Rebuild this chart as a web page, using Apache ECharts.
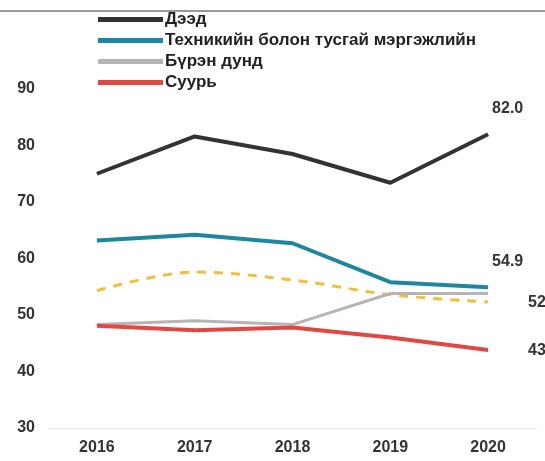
<!DOCTYPE html>
<html>
<head>
<meta charset="utf-8">
<style>
  html, body { margin: 0; padding: 0; background: #fff; }
  #chart { width: 545px; height: 461px; }
</style>
<script src="https://cdn.jsdelivr.net/npm/echarts@6/dist/echarts.min.js"></script>
</head>
<body>
<div id="chart"></div>
<script>
// 데이터
const years = ['2016', '2017', '2018', '2019', '2020'];
const deed = [75.0, 81.6, 78.5, 73.4, 82.0];
const tech = [63.2, 64.2, 62.7, 55.8, 54.9];
const buren = [48.3, 49.0, 48.3, 53.8, 53.8];
const suur = [48.1, 47.3, 47.8, 46.0, 43.8];
const dashed = [54.3, 57.6, 56.2, 53.6, 52.3];
const yTicks = [30, 40, 50, 60, 70, 80, 90];

const font = '"Liberation Sans", Arial, sans-serif';

// 끝 라벨 (위쪽 / 오른쪽)
const labelText = { color: '#333', fontSize: 16, fontWeight: 'bold', fontFamily: font };
const topLabel = Object.assign({
    show: true, distance: 4, offset: [0, -26],
    formatter: p => p.value.toFixed(1)
}, labelText);
const rightLabel = Object.assign({
    show: true, distance: 40, offset: [0, 1],
    formatter: p => p.value.toFixed(1)
}, labelText);

const chart = echarts.init(document.getElementById('chart'));
chart.setOption({
    animation: false,
    grid: { left: 48, right: 8, top: 89, bottom: 33 },
    graphic: [{
        type: 'line', shape: { x1: 0, y1: 11, x2: 545, y2: 11 },
        style: { stroke: '#999', lineWidth: 2 }
    }],
    legend: {
        orient: 'vertical', left: 93, top: 6,
        itemWidth: 65, itemHeight: 5, itemGap: 4,
        icon: 'rect',
        data: ['Дээд', 'Техникийн болон тусгай мэргэжлийн', 'Бүрэн дунд', 'Суурь'],
        textStyle: { color: '#222', fontSize: 17, fontWeight: 'bold', fontFamily: font, padding: [0, 0, 0, -3] }
    },
    xAxis: {
        type: 'category', data: years, boundaryGap: true,
        axisLine: { lineStyle: { color: '#e2e2e2', width: 1 } },
        axisTick: { show: false },
        axisLabel: { color: '#333', fontSize: 16, fontWeight: 'bold', fontFamily: font, margin: 12 }
    },
    yAxis: {
        type: 'value', min: yTicks[0], max: yTicks[yTicks.length - 1], interval: 10,
        splitLine: { show: false },
        axisLine: { show: false }, axisTick: { show: false },
        axisLabel: { color: '#333', fontSize: 16, fontWeight: 'bold', fontFamily: font, margin: 13 }
    },
    series: [
        {
            name: 'Дээд', type: 'line', data: deed, endLabel: topLabel,
            symbol: 'none', itemStyle: { color: '#333333' },
            lineStyle: { color: '#333333', width: 4 }, z: 5
        },
        {
            name: 'Техникийн болон тусгай мэргэжлийн', type: 'line', data: tech, endLabel: topLabel,
            symbol: 'none', itemStyle: { color: '#1d87a0' },
            lineStyle: { color: '#1d87a0', width: 4 }, z: 5
        },
        {
            name: 'Бүрэн дунд', type: 'line', data: buren,
            symbol: 'none', itemStyle: { color: '#b5b5b5' },
            lineStyle: { color: '#b5b5b5', width: 3 }, z: 3
        },
        {
            name: 'Суурь', type: 'line', data: suur, endLabel: rightLabel,
            symbol: 'none', itemStyle: { color: '#e04844' },
            lineStyle: { color: '#e04844', width: 4 }, z: 4
        },
        {
            name: 'dashed', type: 'line', data: dashed, endLabel: rightLabel,
            symbol: 'none', smooth: 0.35, itemStyle: { color: '#f5bd3c' },
            lineStyle: { color: '#f5bd3c', width: 3, type: [9, 8] }, z: 2
        }
    ]
});
</script>
</body>
</html>
